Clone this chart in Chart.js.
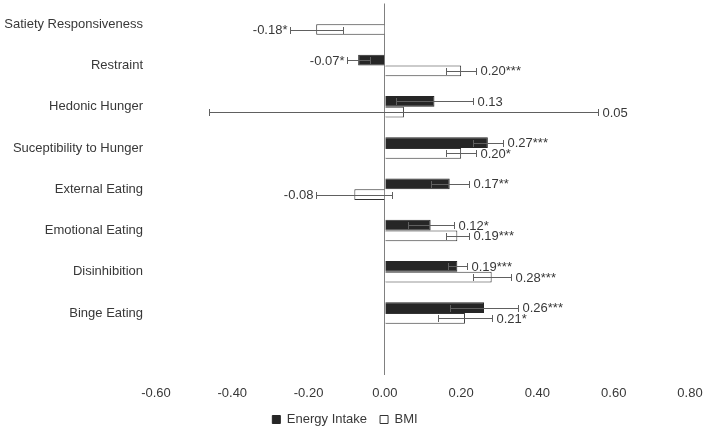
<!DOCTYPE html>
<html><head><meta charset="utf-8">
<script src="https://cdn.jsdelivr.net/npm/chart.js@4"></script>
<style>html,body{margin:0;padding:0;background:#fff}#wrap{width:709px;height:430px;position:relative}</style>
</head><body><div id="wrap"><canvas id="c" width="709" height="430"></canvas></div>
<script>
const categories = ['Satiety Responsiveness','Restraint','Hedonic Hunger','Suceptibility to Hunger','External Eating','Emotional Eating','Disinhibition','Binge Eating',''];
const energyIntake = [null,-0.07,0.13,0.27,0.17,0.12,0.19,0.26,null];
const energyIntakeErr = [null,0.03,0.10,0.04,0.05,0.06,0.025,0.09,null];
const energyIntakeLabels = ['','-0.07*','0.13','0.27***','0.17**','0.12*','0.19***','0.26***',''];
const bmi = [-0.18,0.20,0.05,0.20,-0.08,0.19,0.28,0.21,null];
const bmiErr = [0.07,0.04,0.51,0.04,0.10,0.03,0.05,0.07,null];
const bmiLabels = ['-0.18*','0.20***','0.05','0.20*','-0.08','0.19***','0.28***','0.21*',''];
const xTicks = [-0.6,-0.4,-0.2,0,0.2,0.4,0.6,0.8];

const FONT = 'Liberation Sans, Arial, sans-serif';
const TXT = '#383838';

const errPlugin = {
  id: 'errbars',
  afterDatasetsDraw(chart) {
    const ctx = chart.ctx, xs = chart.scales.x;
    chart.data.datasets.forEach((ds, di) => {
      const meta = chart.getDatasetMeta(di);
      meta.data.forEach((bar, i) => {
        const v = ds.data[i];
        if (v == null) return;
        const e = ds.errors[i];
        const y = Math.round(bar.y) + 0.5;
        const x1 = Math.round(xs.getPixelForValue(v - e)) + 0.5;
        const x2 = Math.round(xs.getPixelForValue(v + e)) + 0.5;
        ctx.save();
        ctx.strokeStyle = '#606060';
        ctx.lineWidth = 1;
        ctx.beginPath();
        ctx.moveTo(x1, y); ctx.lineTo(x2, y);
        ctx.moveTo(x1, y - 3.5); ctx.lineTo(x1, y + 3.5);
        ctx.moveTo(x2, y - 3.5); ctx.lineTo(x2, y + 3.5);
        ctx.stroke();
        const lbl = ds.sigLabels[i];
        if (lbl) {
          ctx.fillStyle = TXT;
          ctx.font = '13px ' + FONT;
          ctx.textBaseline = 'middle';
          if (v < 0) { ctx.textAlign = 'right'; ctx.fillText(lbl, x1 - 3, bar.y + 1); }
          else { ctx.textAlign = 'left'; ctx.fillText(lbl, x2 + 4, bar.y + 1); }
        }
        ctx.restore();
      });
    });
  }
};

new Chart(document.getElementById('c'), {
  type: 'bar',
  data: {
    labels: categories,
    datasets: [
      { label: 'Energy Intake', data: energyIntake, errors: energyIntakeErr, sigLabels: energyIntakeLabels,
        backgroundColor: '#262626', borderColor: '#262626', borderWidth: 1,
        categoryPercentage: 0.52, barPercentage: 1.0 },
      { label: 'BMI', data: bmi, errors: bmiErr, sigLabels: bmiLabels,
        backgroundColor: '#ffffff', borderColor: '#333333', borderWidth: 1,
        categoryPercentage: 0.52, barPercentage: 1.0 }
    ]
  },
  options: {
    indexAxis: 'y',
    responsive: false,
    devicePixelRatio: 1,
    animation: false,
    layout: { padding: { top: 3.5, right: 19, bottom: -6, left: 0 } },
    plugins: {
      legend: {
        position: 'bottom',
        labels: { boxWidth: 8, boxHeight: 8, padding: 13, color: TXT, font: { family: FONT, size: 13 } }
      },
      tooltip: { enabled: false }
    },
    scales: {
      x: {
        min: -0.6, max: 0.8,
        afterBuildTicks: s => { s.ticks = xTicks.map(v => ({ value: v })); },
        ticks: { padding: 11, color: TXT, font: { family: FONT, size: 13 }, callback: v => Number(v).toFixed(2), maxRotation: 0, autoSkip: false },
        grid: { drawTicks: false, color: c => (c.tick && c.tick.value === 0) ? '#808080' : 'rgba(0,0,0,0)', lineWidth: 1 },
        border: { display: false },
        afterFit: s => { s.height = 25; s.paddingLeft = 0; s.paddingRight = 0; }
      },
      y: {
        grid: { display: false, drawTicks: false },
        border: { display: false },
        ticks: { padding: 13, color: TXT, font: { family: FONT, size: 13 }, autoSkip: false },
        afterFit: s => { s.width = 156; s.paddingTop = 0; s.paddingBottom = 0; }
      }
    }
  },
  plugins: [errPlugin]
});
</script></body></html>
